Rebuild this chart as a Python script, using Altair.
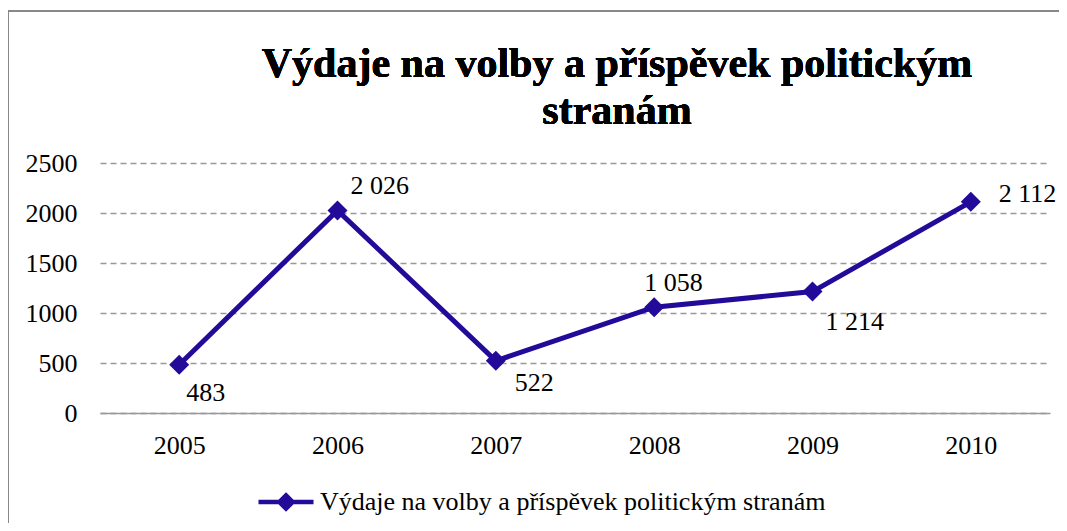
import altair as alt
import pandas as pd

years = ["2005", "2006", "2007", "2008", "2009", "2010"]
values = [483, 2026, 522, 1058, 1214, 2112]
value_labels = ["483", "2 026", "522", "1 058", "1 214", "2 112"]
series_name = "Výdaje na volby a příspěvek politickým stranám"
title_lines = ["Výdaje na volby a příspěvek politickým", "stranám"]
y_ticks = [0, 500, 1000, 1500, 2000, 2500]

COLOR = "#230A99"
FONT = "Liberation Serif"
FS = 26

df = pd.DataFrame({
    "year": years,
    "value": values,
    "label": value_labels,
    "series": [series_name] * len(years),
})

base = alt.Chart(df)

x = alt.X("year:O", title=None, sort=years,
          scale=alt.Scale(type="point", padding=0.5),
          axis=alt.Axis(labelAngle=0, ticks=False, domain=True, domainColor="#999999",
                        domainWidth=1.5, labelPadding=19, grid=False))
y = alt.Y("value:Q", title=None,
          scale=alt.Scale(domain=[0, 2500], nice=False),
          axis=alt.Axis(values=y_ticks, format="d", ticks=False, domain=False, grid=True,
                        gridColor="#999999", gridDash=[6, 4], gridWidth=1.3,
                        labelPadding=23))

line = base.mark_line(strokeWidth=5, color=COLOR).encode(
    x=x, y=y,
    color=alt.Color("series:N", scale=alt.Scale(range=[COLOR]),
                    legend=alt.Legend(
                        title=None, orient="none", legendX=156, legendY=309,
                        symbolType="M-1,0H1M0,-0.24L0.24,0L0,0.24L-0.24,0Z",
                        symbolSize=3025, symbolStrokeWidth=4.5,
                        symbolFillColor=COLOR, symbolStrokeColor=COLOR,
                        labelFont=FONT, labelFontSize=FS, labelColor="#000000",
                        labelOffset=4, labelLimit=900, padding=0)),
)

points = base.mark_point(shape="diamond", filled=True, size=400, opacity=1,
                         color=COLOR).encode(x=x, y=y)

label_positions = [
    (["2005"], 7, 28),
    (["2006"], 13, -24),
    (["2007"], 19, 22),
    (["2008"], -10, -24),
    (["2009"], 13, 30),
    (["2010"], 28, -8),
]
texts = []
for yrs, dx, dy in label_positions:
    texts.append(
        base.transform_filter(alt.FieldOneOfPredicate(field="year", oneOf=yrs))
        .mark_text(align="left", baseline="middle", dx=dx, dy=dy,
                   font=FONT, fontSize=FS, color="#000000")
        .encode(x=x, y=y, text="label:N")
    )

title = base.mark_text(text=title_lines, font=FONT, fontSize=42, fontWeight="bold",
                       color="#000000", align="center", baseline="alphabetic",
                       lineHeight=47).encode(x=alt.value(517), y=alt.value(-86))

frame_top = base.mark_rule(color="#888888", strokeWidth=1.5).encode(
    x=alt.value(-92), x2=alt.value(1100), y=alt.value(-152))
frame_left = base.mark_rule(color="#888888", strokeWidth=1.5).encode(
    x=alt.value(-92), y=alt.value(-152), y2=alt.value(400))

chart = alt.layer(frame_top, frame_left, title, line, points, *texts).properties(
    width=950, height=250,
    autosize=alt.AutoSizeParams(type="none"),
    padding={"left": 92, "top": 155, "right": 9, "bottom": 110},
).configure_axis(
    labelFont=FONT, labelFontSize=FS, labelColor="#000000",
).configure_view(stroke=None)

chart.save("out.html", embed_options={"renderer": "svg", "actions": False})
